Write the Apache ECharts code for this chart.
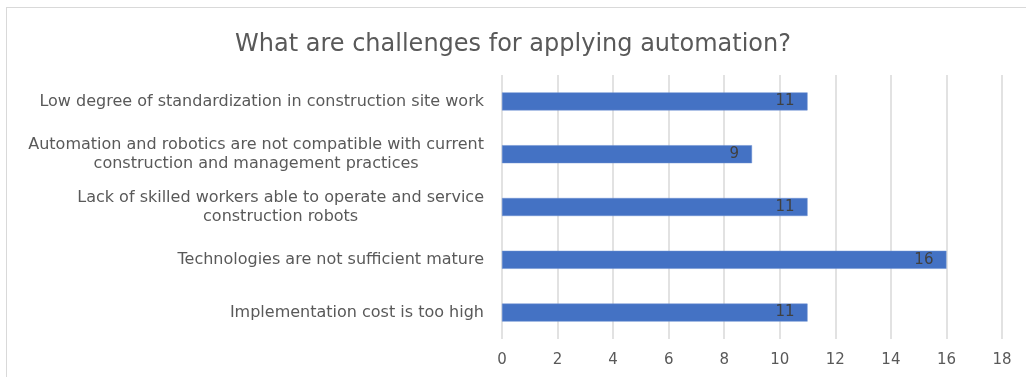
<!DOCTYPE html>
<html>
<head>
<meta charset="utf-8">
<script src="https://cdn.jsdelivr.net/npm/echarts@6/dist/echarts.min.js"></script>
<style>
  html, body { margin: 0; padding: 0; background: #fff; overflow: hidden; }
  #frame { position: absolute; left: 6px; top: 7px; width: 1030px; height: 380px; border: 1px solid #d9d9d9; box-sizing: border-box; }
  #chart { width: 1026px; height: 377px; }
</style>
</head>
<body>
<div id="frame"></div>
<div id="chart"></div>
<script>
const categories = [
  'Low degree of standardization in construction site work',
  'Automation and robotics are not compatible with current\nconstruction and management practices',
  'Lack of skilled workers able to operate and service\nconstruction robots',
  'Technologies are not sufficient mature',
  'Implementation cost is too high'
];
const counts = [11, 9, 11, 16, 11];
const xTicks = [0, 2, 4, 6, 8, 10, 12, 14, 16, 18];

const font = 'DejaVu Sans';

const chart = echarts.init(document.getElementById('chart'));
chart.setOption({
  animation: false,
  title: {
    text: 'What are challenges for applying automation?',
    left: 'center',
    top: 28,
    textStyle: {
      color: '#595959',
      fontFamily: font,
      fontWeight: 'normal',
      fontSize: 24
    }
  },
  grid: {
    left: 502,
    right: 24,
    top: 75,
    bottom: 38
  },
  xAxis: {
    type: 'value',
    min: xTicks[0],
    max: xTicks[xTicks.length - 1],
    interval: 2,
    axisLine: { show: false },
    axisTick: { show: false },
    axisLabel: { color: '#595959', fontFamily: font, fontSize: 15, margin: 14 },
    splitLine: { lineStyle: { color: '#d9d9d9', width: 1.5 } }
  },
  yAxis: {
    type: 'category',
    inverse: true,
    data: categories,
    axisLine: { show: false },
    axisTick: { show: false },
    axisLabel: {
      color: '#595959',
      fontFamily: font,
      fontSize: 16,
      lineHeight: 18,
      align: 'right',
      margin: 18,
      formatter: v => v.split('\n').map(s => '{c|' + s + '}').join('\n'),
      rich: {
        c: { align: 'center', fontFamily: font, fontSize: 16, lineHeight: 19, color: '#595959' }
      }
    }
  },
  series: [{
    type: 'bar',
    data: counts,
    barWidth: 18,
    itemStyle: { color: '#4472C4', borderColor: '#6a8fd0', borderWidth: 0.5 },
    label: {
      show: true,
      position: 'insideRight',
      color: '#404040',
      fontFamily: font,
      fontSize: 15,
      distance: 13
    }
  }]
});
</script>
</body>
</html>
